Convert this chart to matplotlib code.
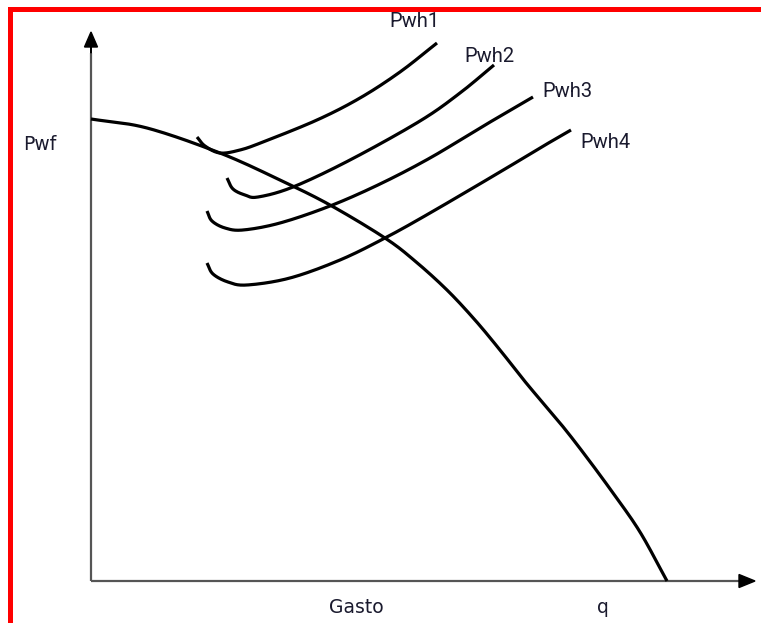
import numpy as np
import matplotlib
matplotlib.use("Agg")
import matplotlib.pyplot as plt
from matplotlib.patches import Rectangle, FancyArrow

# ---- data (chart units: q to the right of the origin, Pwf above the origin) ----
# IPR curve (Pwf vs Gasto)
ipr_q = [0, 56, 129, 189, 239, 294, 324, 356, 384, 409, 436, 469, 494, 522, 549, 576]
ipr_p = [462, 453, 428, 401, 376, 343, 320, 291, 261, 231, 197, 158, 126, 88, 49, 0]

# Outflow curves Pwh1..Pwh4
pwh_names = ["Pwh1", "Pwh2", "Pwh3", "Pwh4"]
pwh1_q = [106, 114, 129, 149, 172, 226, 269, 309, 346]
pwh1_p = [444, 435, 428, 431, 439, 461, 483, 509, 538]
pwh2_q = [136, 142, 154, 167, 202, 259, 329, 369, 403]
pwh2_p = [403, 392, 386, 384, 394, 421, 460, 488, 516]
pwh3_q = [116, 121, 134, 152, 189, 239, 289, 339, 389, 442]
pwh3_p = [370, 360, 353, 351, 358, 375, 397, 423, 453, 484]
pwh4_q = [116, 122, 137, 156, 199, 249, 294, 339, 409, 449, 480]
pwh4_p = [318, 307, 299, 296, 303, 321, 343, 368, 409, 433, 451]
pwh_q = [pwh1_q, pwh2_q, pwh3_q, pwh4_q]
pwh_p = [pwh1_p, pwh2_p, pwh3_p, pwh4_p]

W, H = 761, 623
OX, OY = 91, 581  # origin in pixels


def smooth(xs, ys, n=20):
    """Catmull-Rom spline through the given points (for drawing only)."""
    pts = np.column_stack([xs, ys]).astype(float)
    pts = np.vstack([2 * pts[0] - pts[1], pts, 2 * pts[-1] - pts[-2]])
    out = []
    for i in range(1, len(pts) - 2):
        p0, p1, p2, p3 = pts[i - 1], pts[i], pts[i + 1], pts[i + 2]
        t = np.linspace(0, 1, n, endpoint=False)[:, None]
        seg = 0.5 * ((2 * p1) + (-p0 + p2) * t + (2 * p0 - 5 * p1 + 4 * p2 - p3) * t ** 2
                     + (-p0 + 3 * p1 - 3 * p2 + p3) * t ** 3)
        out.append(seg)
    out.append(pts[-2][None, :])
    out = np.vstack(out)
    return out[:, 0], out[:, 1]


fig = plt.figure(figsize=(W / 100, H / 100), dpi=100)
ax = fig.add_axes([0, 0, 1, 1])
ax.set_xlim(-OX, W - OX)
ax.set_ylim(OY - H, OY)
ax.axis("off")

# axes with arrows
axis_col = "#555555"
ax.plot([0, 650], [0, 0], color=axis_col, lw=1.6, solid_capstyle="butt", zorder=2)
ax.plot([0, 0], [0, 528], color=axis_col, lw=1.6, solid_capstyle="butt", zorder=2)
ax.add_patch(FancyArrow(648, 0, 16, 0, width=0.01, head_width=13, head_length=16,
                        length_includes_head=True, color="black", zorder=3))
ax.add_patch(FancyArrow(0, 528, 0, 21, width=0.01, head_width=13, head_length=15,
                        length_includes_head=True, color="black", zorder=3))

# curves
lw = 2.3
x, y = smooth(ipr_q, ipr_p)
ax.plot(x, y, color="black", lw=lw, solid_capstyle="butt", zorder=4)
for qq, pp in zip(pwh_q, pwh_p):
    x, y = smooth(qq, pp)
    ax.plot(x, y, color="black", lw=lw, solid_capstyle="butt", zorder=4)

txt_col = "#1a1a2e"
label_font = ["Roboto", "DejaVu Sans"]
label_pos = [(389 - OX, OY - 27), (464 - OX, OY - 62), (542 - OX, OY - 97), (580 - OX, OY - 148)]
for name, (lx, ly) in zip(pwh_names, label_pos):
    ax.text(lx, ly, name, fontsize=14.5, family=label_font, color=txt_col,
            ha="left", va="baseline", zorder=5)

ax.text(23 - OX, OY - 150, "Pwf", fontsize=13.5, family="DejaVu Sans", color=txt_col,
        ha="left", va="baseline")
ax.text(329 - OX, OY - 613, "Gasto", fontsize=13.5, family="DejaVu Sans", color=txt_col,
        ha="left", va="baseline")
ax.text(597 - OX, OY - 613, "q", fontsize=13.5, family="DejaVu Sans", color=txt_col,
        ha="left", va="baseline")

# red frame (top and left)
fig.add_artist(Rectangle((8 / W, 1 - 12 / H), 1 - 8 / W, 5 / H, transform=fig.transFigure,
                         color="#ff0000", lw=0, zorder=10))
fig.add_artist(Rectangle((8 / W, 0), 5 / W, 1 - 7 / H, transform=fig.transFigure,
                         color="#ff0000", lw=0, zorder=10))

fig.savefig("out.png", dpi=100)
